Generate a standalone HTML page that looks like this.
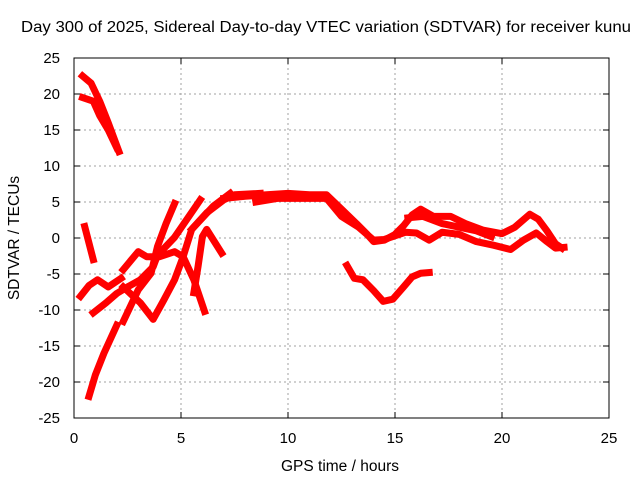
<!DOCTYPE html>
<html><head><meta charset="utf-8"><style>
body{margin:0;background:#fff;}
svg{display:block;font-family:"Liberation Sans",sans-serif;}
</style></head><body>
<svg id="chart" width="640" height="480" viewBox="0 0 640 480">
<text x="326" y="32" font-size="15.5" text-anchor="middle" textLength="610" lengthAdjust="spacingAndGlyphs">Day 300 of 2025, Sidereal Day-to-day VTEC variation (SDTVAR) for receiver kunu</text>
<g id="grid"></g>
<g id="ticks"></g>
<g id="series"></g>
<rect x="74" y="58" width="535" height="360" fill="none" stroke="#000" stroke-width="1"/>
<text x="340" y="471" font-size="15.5" text-anchor="middle">GPS time / hours</text>
<text transform="translate(19,238) rotate(-90)" font-size="15.5" text-anchor="middle">SDTVAR / TECUs</text>
</svg>
<script>
const xTicks=[0,5,10,15,20,25];
const yTicks=[-25,-20,-15,-10,-5,0,5,10,15,20,25];
const track1=[[0.4,22.5],[0.8,21.5],[1.2,19],[1.6,16],[2.1,12]];
const track2=[[0.4,19.5],[0.9,19],[1.2,17],[1.6,15],[2.0,12.5]];
const track3=[[0.5,1.6],[0.9,-3]];
const track4=[[0.3,-8.1],[0.7,-6.6],[1.1,-5.8],[1.6,-6.8],[2.2,-5.6]];
const track5=[[0.7,-22],[1.0,-19],[1.4,-16],[2.0,-12.1]];
const track5b=[[2.3,-11.6],[3.0,-7.2],[3.6,-4.9],[3.9,-1.2],[4.3,2],[4.7,4.8]];
const track6=[[0.9,-10.4],[1.5,-9],[2.0,-7.7],[2.5,-6.8],[3.1,-5.8],[3.7,-4],[3.9,-2.4],[4.7,0.1],[5.3,2.7],[5.9,5.3]];
const track7=[[2.3,-4.4],[3.0,-1.9],[3.4,-2.6],[4.0,-2.6],[4.7,-1.9],[5.1,-2.6],[5.6,-5.8],[6.1,-10.2]];
const track8=[[2.3,-6.8],[3.1,-9],[3.7,-11.3],[4.2,-8.6],[4.7,-5.8],[5.1,-2.6],[5.5,1.2],[6.2,3.5],[7.0,5.3],[7.5,6],[8.7,6.2]];
const track9=[[5.6,-7.6],[5.8,-3.9],[6.0,0.2],[6.2,1.2],[6.9,-2.1]];
const track10=[[5.5,1.2],[6.5,4.4],[7.3,6.2]];
const track11=[[7,5.5],[8,5.8],[9,6],[10,6.2],[11,6],[11.8,6],[12.5,4],[13.2,2],[13.7,0.5],[14,-0.5],[14.5,-0.3],[15,0.5],[15.4,1.7],[15.8,3.2],[16.2,4],[16.8,3],[17.6,3],[18.3,2],[19.1,1.1],[20,0.6],[20.6,1.5],[21.3,3.3],[21.7,2.6],[22.1,1],[22.5,-0.8],[22.8,-1.4]];
const track12=[[8.5,5],[9.5,5.5],[10.5,5.5],[11,5.5],[11.8,5.5],[12.5,3],[13.3,1.5],[14,-0.3],[14.5,-0.2],[15,0.3],[15.5,0.8],[16,0.7],[16.6,-0.3],[17.2,0.8],[18,0.5],[18.8,-0.5],[19.6,-1],[20.4,-1.6],[21,-0.3],[21.6,0.7],[22.1,-0.5],[22.5,-1.4],[22.9,-1.3]];
const track13=[[15.6,2.8],[16.3,3],[17.2,2],[18,1.5],[18.8,1],[19.5,0.2]];
const track14=[[12.75,-3.8],[13.1,-5.6],[13.5,-5.8],[14,-7.3],[14.45,-8.8],[14.9,-8.5],[15.4,-6.8],[15.8,-5.4],[16.2,-4.9],[16.6,-4.8]];
const tracks=[track1,track2,track3,track4,track5,track5b,track6,track7,track8,track9,track10,track11,track12,track13,track14];

const NS="http://www.w3.org/2000/svg";
const X=h=>74+h*(535/25);
const Y=v=>238-v*(360/50);
const grid=document.getElementById('grid'),ticks=document.getElementById('ticks'),series=document.getElementById('series');
function mk(tag,attrs,parent){const e=document.createElementNS(NS,tag);for(const k in attrs)e.setAttribute(k,attrs[k]);parent.appendChild(e);return e;}
xTicks.forEach(t=>{
  const x=X(t);
  if(t>0&&t<25){const g=mk('line',{x1:x,x2:x,y1:58,y2:418,stroke:'#a0a0a0','stroke-dasharray':'2,3'},grid);
  
  }
  const l=mk('text',{x:x,y:443,'font-size':15,'text-anchor':'middle'},ticks);
  
  
  l.textContent=t;
  mk('line',{x1:x,x2:x,y1:418,y2:412,stroke:'#000'},ticks);
  mk('line',{x1:x,x2:x,y1:58,y2:64,stroke:'#000'},ticks);
});
yTicks.forEach(t=>{
  const y=Y(t);
  if(t>-25&&t<25){const g=mk('line',{x1:74,x2:609,y1:y,y2:y,stroke:'#a0a0a0','stroke-dasharray':'2,3'},grid);
  
  }
  const l=mk('text',{x:60,y:y+5,'font-size':15,'text-anchor':'end'},ticks);
  
  
  l.textContent=t;
  mk('line',{x1:74,x2:80,y1:y,y2:y,stroke:'#000'},ticks);
  mk('line',{x1:609,x2:603,y1:y,y2:y,stroke:'#000'},ticks);
});
tracks.forEach((tr,i)=>{
  const p=mk('polyline',{points:tr.map(d=>X(d[0])+','+Y(d[1])).join(' '),fill:'none',stroke:'#ff0000','stroke-width':7,'stroke-linejoin':'round','stroke-linecap':'square'},series);
  
  
});
</script>
</body></html>
